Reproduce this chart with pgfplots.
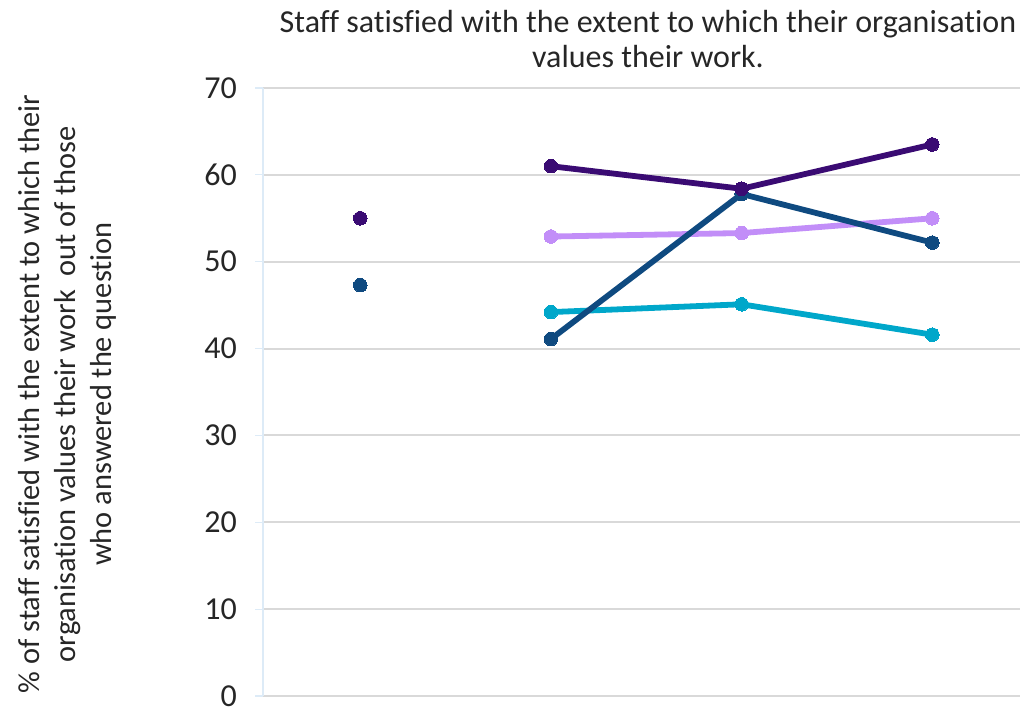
\documentclass[border=0pt]{standalone}
\usepackage{pgfplots}
\pgfplotsset{compat=1.18}
\usepackage{fontspec}
\setmainfont{Carlito}[Ligatures=NoCommon]
\definecolor{dpurple}{HTML}{3A0B73}
\definecolor{dblue}{HTML}{0F4A80}
\definecolor{lpurple}{HTML}{C28EF8}
\definecolor{cyanc}{HTML}{00A7CA}
\definecolor{gridgray}{HTML}{D9D9D9}
\definecolor{lblue}{HTML}{DDEBF7}
\begin{document}
\begin{tikzpicture}
\path[use as bounding box] (-131.5pt,-9pt) rectangle (379pt,348pt);
\begin{axis}[
  at={(0,0)}, anchor=south west,
  scale only axis, width=378.5pt, height=304pt,
  xmin=-0.51, xmax=3.46, ymin=0, ymax=70,
  ytick={0,10,...,70}, xtick=\empty,
  axis x line=bottom, axis y line=left,
  axis line style={-},
  x axis line style={color=gridgray, line width=1pt},
  y axis line style={color=lblue, line width=0.6pt},
  ymajorgrids, grid style={color=gridgray, line width=1pt},
  tick align=outside, major tick length=4pt,
  ytick style={color=lblue, line width=0.6pt},
  yticklabel style={font=\fontsize{16}{18}\selectfont, text=black!85, xshift=-5.5pt},
  /pgf/number format/assume math mode=true,
  clip=false,
  every axis plot/.append style={line width=2.9pt, mark=*, mark size=3.4pt},
]
\addplot[color=cyanc, mark options={fill=cyanc, draw=cyanc, line width=0pt}] coordinates {(1,44.2) (2,45.1) (3,41.6)};
\addplot[color=lpurple, mark options={fill=lpurple, draw=lpurple, line width=0pt}] coordinates {(1,52.9) (2,53.3) (3,55.0)};
\addplot[color=dblue, mark options={fill=dblue, draw=dblue, line width=0pt}] coordinates {(1,41.1) (2,57.8) (3,52.2)};
\addplot[color=dpurple, mark options={fill=dpurple, draw=dpurple, line width=0pt}] coordinates {(1,61.0) (2,58.4) (3,63.5)};
\addplot[only marks, color=dblue, mark options={fill=dblue, draw=dblue, line width=0pt}] coordinates {(0,47.3)};
\addplot[only marks, color=dpurple, mark options={fill=dpurple, draw=dpurple, line width=0pt}] coordinates {(0,55.0)};
\end{axis}
\node[align=center, font=\fontsize{16}{17.5}\selectfont, text=black!85] at (192.5pt,328.25pt) {Staff satisfied with the extent to which their organisation\\values their work.};
\node[rotate=90, align=center, font=\fontsize{15.2}{18}\selectfont, text=black!85] at (-98pt,151pt) {\% of staff satisfied with the extent to which their\\organisation values their work\ \ out of those\\who answered the question};
\end{tikzpicture}
\end{document}
